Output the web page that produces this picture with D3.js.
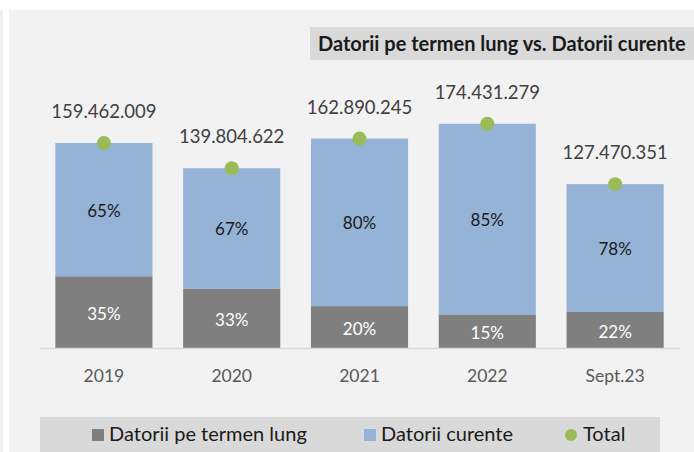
<!DOCTYPE html>
<html><head><meta charset="utf-8">
<script src="https://cdn.jsdelivr.net/npm/d3@7"></script>
<style>
html,body{margin:0;padding:0;background:#fff;}
svg{display:block;font-family:Lato,"Open Sans",sans-serif;}
</style></head><body>
<script>
const categories = ["2019","2020","2021","2022","Sept.23"];
const totals = [159462009, 139804622, 162890245, 174431279, 127470351];
const longTermPct = [35, 33, 20, 15, 22];
const currentPct = [65, 67, 80, 85, 78];
const totalLabels = ["159.462.009","139.804.622","162.890.245","174.431.279","127.470.351"];
const seriesNames = ["Datorii pe termen lung","Datorii curente","Total"];
const title = "Datorii pe termen lung vs. Datorii curente";

const W=694,H=452;
const svg=d3.select("body").append("svg").attr("width",W).attr("height",H);
svg.append("rect").attr("width",W).attr("height",H).attr("fill","#fff");
svg.append("rect").attr("x",0).attr("y",10).attr("width",3).attr("height",H-10).attr("fill","#f0f0f0");
svg.append("rect").attr("x",9).attr("y",10).attr("width",W-9).attr("height",H-10).attr("fill","#f2f2f2");

// title
svg.append("rect").attr("x",310).attr("y",27).attr("width",W-310).attr("height",33).attr("fill","#d9d9d9");
svg.append("text").attr("x",318).attr("y",51).text(title)
  .attr("font-size",20).attr("font-weight","bold").attr("fill","#1a1a1a");

const x=d3.scaleBand().domain(categories).range([40,679]).paddingInner(0.24).paddingOuter(0.12);
const y=d3.scaleLinear().domain([0,1.59462009e8]).range([348,143]);

const data=categories.map((c,i)=>({c,total:totals[i],lt:totals[i]*longTermPct[i]/100,ltp:longTermPct[i],cp:currentPct[i],lab:totalLabels[i]}));

const g=svg.append("g");
g.selectAll("rect.lt").data(data).join("rect").attr("class","lt")
  .attr("x",d=>x(d.c)).attr("width",x.bandwidth())
  .attr("y",d=>y(d.lt)).attr("height",d=>y(0)-y(d.lt)).attr("fill","#7f7f7f");
g.selectAll("rect.cu").data(data).join("rect").attr("class","cu")
  .attr("x",d=>x(d.c)).attr("width",x.bandwidth())
  .attr("y",d=>y(d.total)).attr("height",d=>y(d.lt)-y(d.total)).attr("fill","#95b3d7");

// axis
const ax=svg.append("g").attr("transform","translate(0,348)")
  .call(d3.axisBottom(x).tickSize(0).tickPadding(22));
ax.select(".domain").attr("stroke","#d9d9d9").attr("stroke-width",1.5);
ax.selectAll("text").attr("font-size",17.5).attr("fill","#595959").attr("font-family","Lato,'Open Sans',sans-serif");

// pct labels
g.selectAll("text.ltp").data(data).join("text").attr("class","ltp")
  .attr("x",d=>x(d.c)+x.bandwidth()/2).attr("y",d=>(y(d.lt)+y(0))/2+8)
  .attr("text-anchor","middle").attr("font-size",17).attr("fill","#fff").text(d=>d.ltp+"%");
g.selectAll("text.cp").data(data).join("text").attr("class","cp")
  .attr("x",d=>x(d.c)+x.bandwidth()/2).attr("y",d=>(y(d.lt)+y(d.total))/2+7)
  .attr("text-anchor","middle").attr("font-size",17).attr("fill","#1a1a1a").text(d=>d.cp+"%");

// total dots
g.selectAll("circle.tot").data(data).join("circle").attr("class","tot")
  .attr("cx",d=>x(d.c)+x.bandwidth()/2).attr("cy",d=>y(d.total)).attr("r",7).attr("fill","#9bbb59");
g.selectAll("text.tot").data(data).join("text").attr("class","tot")
  .attr("x",d=>x(d.c)+x.bandwidth()/2).attr("y",d=>y(d.total)-25)
  .attr("text-anchor","middle").attr("font-size",18.5).attr("fill","#404040").text(d=>d.lab);

// legend
svg.append("rect").attr("x",40).attr("y",417).attr("width",620).attr("height",40).attr("fill","#d9d9d9");
const lg=svg.append("g");
lg.append("rect").attr("x",92).attr("y",429).attr("width",12).attr("height",12).attr("fill","#7f7f7f");
lg.append("text").attr("x",109).attr("y",441).text(seriesNames[0]).attr("font-size",20).attr("fill","#1a1a1a");
lg.append("rect").attr("x",364).attr("y",429).attr("width",12).attr("height",12).attr("fill","#95b3d7");
lg.append("text").attr("x",381).attr("y",441).text(seriesNames[1]).attr("font-size",20).attr("fill","#1a1a1a");
lg.append("circle").attr("cx",571).attr("cy",435).attr("r",6).attr("fill","#9bbb59");
lg.append("text").attr("x",583).attr("y",441).text(seriesNames[2]).attr("font-size",20).attr("fill","#1a1a1a");
</script>
</body></html>
